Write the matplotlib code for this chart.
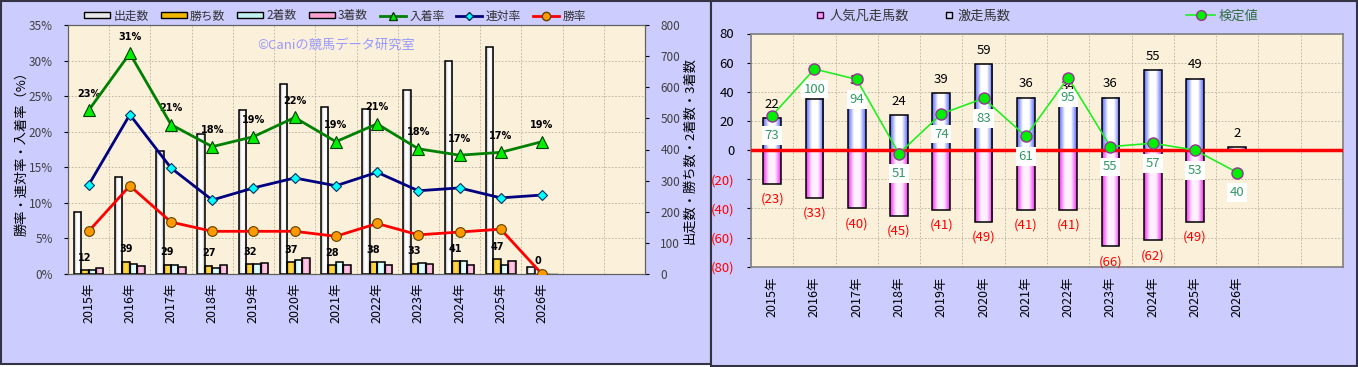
import matplotlib
matplotlib.use('Agg')
import matplotlib.pyplot as plt
import numpy as np
from matplotlib.patches import Rectangle, Patch
from matplotlib.lines import Line2D
from matplotlib.colors import LinearSegmentedColormap

plt.rcParams['font.family'] = ['Noto Sans CJK JP', 'DejaVu Sans']

# ---- data (left chart) ----
years = ['2015年', '2016年', '2017年', '2018年', '2019年', '2020年', '2021年',
         '2022年', '2023年', '2024年', '2025年', '2026年']
runs = [200, 313, 396, 450, 527, 610, 535, 529, 592, 685, 728, 24]      # 出走数
wins = [12, 39, 29, 27, 32, 37, 28, 38, 33, 41, 47, 0]                  # 勝ち数
seconds = [14, 31, 30, 19, 32, 45, 38, 37, 35, 43, 30, 0]               # 2着数
thirds = [19, 26, 22, 28, 34, 51, 29, 30, 32, 30, 43, 0]                # 3着数
place_rate = [23.0, 31.0, 21.0, 17.9, 19.3, 22.0, 18.6, 21.1, 17.6, 16.7, 17.1, 18.6]  # 入着率
quinella_rate = [12.5, 22.4, 14.9, 10.4, 12.1, 13.5, 12.4, 14.3, 11.7, 12.1, 10.7, 11.1]  # 連対率
win_rate = [6.0, 12.4, 7.3, 6.0, 6.0, 6.0, 5.3, 7.1, 5.5, 5.9, 6.3, 0.0]  # 勝率

# ---- data (right chart) ----
hot_runs = [22, 35, 38, 24, 39, 59, 36, 34, 36, 55, 49, 2]              # 激走馬数
flop_runs = [-23, -33, -40, -45, -41, -49, -41, -41, -66, -62, -49, 0]  # 人気凡走馬数
test_val = [73, 100, 94, 51, 74, 83, 61, 95, 55, 57, 53, 40]            # 検定値

W, H = 1358, 367
LAV = '#CCCCFF'
PLOT_BG = '#FBF0DA'


def fx(px):
    return px / W


def fy(py):
    return 1 - py / H


def grad_bar(ax, x, h, w, c_edge, c_mid, bottom=0, z=2):
    # cylinder style bar: coloured edges, light centre
    if h == 0:
        ax.plot([x - w / 2, x + w / 2], [bottom, bottom], color='black', lw=1, zorder=z + 1)
        return
    cmap = LinearSegmentedColormap.from_list('g', [c_edge, c_mid, c_mid, c_edge])
    g = np.linspace(0, 1, 60).reshape(1, -1)
    ax.imshow(g, extent=[x - w / 2, x + w / 2, bottom, bottom + h], aspect='auto',
              cmap=cmap, zorder=z, interpolation='bilinear')
    ax.bar(x, h, w, bottom=bottom, facecolor='none', edgecolor='black', lw=1.1, zorder=z + 1)


fig = plt.figure(figsize=(W / 100, H / 100), dpi=100)
fig.patch.set_facecolor('white')
fig.patches.append(Rectangle((fx(0.8), fy(364)), fx(710), 363.2 / H, transform=fig.transFigure,
                             facecolor=LAV, edgecolor='#333344', lw=1.5, zorder=-10))
fig.patches.append(Rectangle((fx(711), fy(366)), fx(646), 365.2 / H, transform=fig.transFigure,
                             facecolor=LAV, edgecolor='#333344', lw=1.5, zorder=-10))

# ================= left chart =================
ax = fig.add_axes([fx(68), fy(274), (645 - 68) / W, (274 - 25) / H])
ax.set_facecolor(PLOT_BG)
ax2 = ax.twinx()   # rates, drawn on top of the bars
x = np.arange(len(years))
offs = [-0.27, -0.09, 0.09, 0.27]
bw = 0.18
bar_series = [(runs, '#A8A8A8', '#FFFFFF'),
              (wins, '#C89000', '#FFD840'),
              (seconds, '#80D8D8', '#E8FFFF'),
              (thirds, '#E070A8', '#FFC8E4')]
for k, (vals, ce, cm) in enumerate(bar_series):
    for xi, v in zip(x, vals):
        grad_bar(ax, xi + offs[k], v, bw, ce, cm)

for xi, v in zip(x, wins):
    ax.annotate(str(v), (xi + offs[1], v), xytext=(0, 9), textcoords='offset points',
                ha='center', va='center', fontsize=7, fontweight='bold', family='DejaVu Sans')

ax.set_xlim(-0.5, 13.5)
ax.set_ylim(0, 800)
ax.yaxis.tick_right()
ax.set_yticks(np.arange(0, 801, 100))
ax.set_yticks(np.arange(0, 801, 800 / 7), minor=True)
ax.set_xticks(x)
ax.set_xticklabels(years, rotation=90, fontsize=9)
ax.set_xticks(np.arange(-0.5, 14, 1), minor=True)
ax.grid(which='minor', color='#B8B0A0', linestyle=(0, (2, 2)), lw=0.6)
ax.set_axisbelow(True)
ax.tick_params(axis='x', which='both', length=0, pad=6)
ax.tick_params(axis='y', which='minor', length=0)
ax.tick_params(axis='y', which='major', labelsize=8.5, labelcolor='#404040', length=3, pad=8)

ax2.yaxis.tick_left()
ax2.set_ylim(0, 35)
ax2.set_yticks(np.arange(0, 36, 5))
ax2.set_yticklabels(['%d%%' % v for v in range(0, 36, 5)])
ax2.tick_params(axis='y', labelsize=8.5, labelcolor='#404040', length=3, pad=8)
for a in (ax, ax2):
    for s in a.spines.values():
        s.set_color('#606060')

xl = x[:len(place_rate)]
ax2.plot(xl, place_rate, color='#008000', lw=2.0, marker='^', ms=8,
         mfc='#00EE00', mec='#004000', mew=0.8, zorder=5)
ax2.plot(xl, quinella_rate, color='#000080', lw=2.0, marker='D', ms=5,
         mfc='#00FFFF', mec='#003060', mew=0.8, zorder=5)
ax2.plot(xl, win_rate, color='#FF0000', lw=2.0, marker='o', ms=7,
         mfc='#FF9900', mec='#604000', mew=0.8, zorder=6)
for xi, v in zip(xl, place_rate):
    ax2.annotate('%d%%' % round(v), (xi, v), xytext=(0, 12), textcoords='offset points',
                 ha='center', va='center', fontsize=7, fontweight='bold', family='DejaVu Sans')

fig.text(fx(257), fy(45), '©Caniの競馬データ研究室', color='#9999FF', fontsize=9.5,
         ha='left', va='center')
fig.text(fx(22), fy(150), '勝率・連対率・入着率（%）', rotation=90, ha='center', va='center',
         fontsize=9.5)
fig.text(fx(690), fy(150), '出走数・勝ち数・2着数・3着数', rotation=90, ha='center', va='center',
         fontsize=9.5)

lh = [Patch(facecolor='#E8E8E8', edgecolor='black'),
      Patch(facecolor='#F0B800', edgecolor='black'),
      Patch(facecolor='#C0F0F0', edgecolor='black'),
      Patch(facecolor='#F8A0D0', edgecolor='black'),
      Line2D([], [], color='#008000', lw=2, marker='^', ms=6, mfc='#00EE00', mec='#004000'),
      Line2D([], [], color='#000080', lw=2, marker='D', ms=4, mfc='#00FFFF', mec='#003060'),
      Line2D([], [], color='#FF0000', lw=2, marker='o', ms=6, mfc='#FF9900', mec='#604000')]
ll = ['出走数', '勝ち数', '2着数', '3着数', '入着率', '連対率', '勝率']
leg = ax2.legend(lh, ll, ncol=7, loc='center left', bbox_to_anchor=(fx(84), fy(16)),
                 bbox_transform=fig.transFigure, frameon=False, fontsize=8.5,
                 handlelength=2.2, handleheight=0.45, handletextpad=0.3, columnspacing=1.0,
                 borderaxespad=0, borderpad=0)
for t in leg.get_texts():
    t.set_color('#333333')

# ================= right chart =================
ax3 = fig.add_axes([fx(751), fy(266.7), (1343 - 751) / W, (266.7 - 33.5) / H])
ax3.set_facecolor(PLOT_BG)
bw2 = 0.42
for xi, v in zip(x, hot_runs):
    grad_bar(ax3, xi, v, bw2, '#5868FF', '#FFFFFF')
    ax3.annotate(str(v), (xi, v), xytext=(0, 10), textcoords='offset points',
                 ha='center', va='center', fontsize=9.5)
for xi, v in zip(x, flop_runs):
    if v == 0:
        continue
    grad_bar(ax3, xi, v, bw2, '#F030F0', '#FFF0FF')
    ax3.annotate('(%d)' % -v, (xi, v), xytext=(0, -11), textcoords='offset points',
                 ha='center', va='center', fontsize=9.5, color='red')
ax3.axhline(0, color='#FF0000', lw=2.5, zorder=6)

ax3.set_xlim(-0.5, 13.5)
ax3.set_ylim(-80, 80)
yt = np.arange(-80, 81, 20)
ax3.set_yticks(yt)
ax3.set_yticklabels([str(v) if v >= 0 else '(%d)' % -v for v in yt])
for t, v in zip(ax3.get_yticklabels(), yt):
    t.set_color('red' if v < 0 else 'black')
ax3.set_xticks(x)
ax3.set_xticklabels(years, rotation=90, fontsize=9)
ax3.set_xticks(np.arange(-0.5, 14, 1), minor=True)
ax3.grid(which='minor', axis='x', color='#B8B0A0', linestyle=(0, (2, 2)), lw=0.6)
ax3.grid(which='major', axis='y', color='#B8B0A0', linestyle=(0, (2, 2)), lw=0.6)
ax3.set_axisbelow(True)
ax3.tick_params(axis='x', which='both', length=0, pad=7)
ax3.tick_params(axis='y', labelsize=9.5, length=3, pad=9)
for s in ax3.spines.values():
    s.set_color('#808080')
    s.set_linewidth(1.2)

ax4 = ax3.twinx()
ax4.set_ylim(53 - 67.6, 53 + 67.6)
ax4.axis('off')
ax4.plot(x[:len(test_val)], test_val, color='#22EE22', lw=1.2, marker='o', ms=8,
         mfc='#00EE00', mec='#993399', mew=1.0, zorder=5)
for xi, v in zip(x, test_val):
    ax4.annotate(str(v), (xi, v), xytext=(0, -14.5), textcoords='offset points',
                 ha='center', va='center', fontsize=9.5, color='#339966',
                 bbox=dict(facecolor='white', edgecolor='none', pad=2.0))

rh = [Line2D([], [], ls='none', marker='s', ms=5, mfc='#FF99FF', mec='#330033'),
      Line2D([], [], ls='none', marker='s', ms=5, mfc='#DDDDFF', mec='#000000')]
leg2 = ax3.legend(rh, ['人気凡走馬数', '激走馬数'], ncol=2, loc='center left',
                  bbox_to_anchor=(fx(815), fy(16)), bbox_transform=fig.transFigure,
                  frameon=False, fontsize=9.5, handlelength=0.8, handletextpad=0.3,
                  columnspacing=2.6, borderaxespad=0, borderpad=0)
for t in leg2.get_texts():
    t.set_color('#333333')
leg3 = ax4.legend([Line2D([], [], color='#22EE22', lw=1.2, marker='o', ms=7,
                          mfc='#00EE00', mec='#993399')], ['検定値'],
                  loc='center left', bbox_to_anchor=(fx(1186), fy(16)),
                  bbox_transform=fig.transFigure, frameon=False, fontsize=9.5,
                  handlelength=2.2, handletextpad=0.3, borderaxespad=0, borderpad=0)
for t in leg3.get_texts():
    t.set_color('#2F6F3F')

fig.savefig('out.png', dpi=100, facecolor=fig.get_facecolor())
